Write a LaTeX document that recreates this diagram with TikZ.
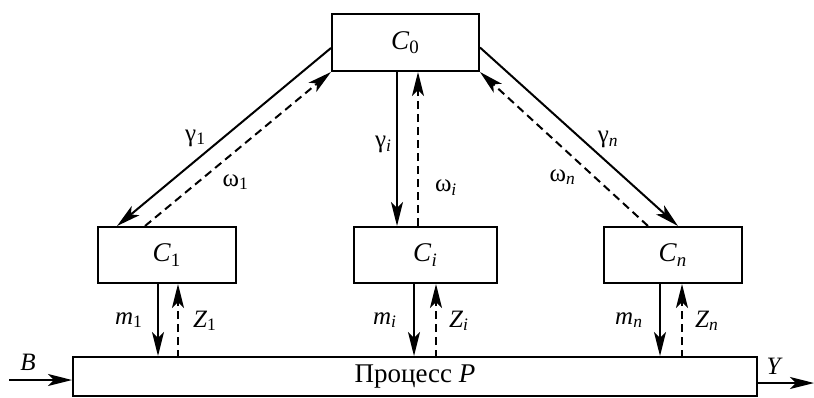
\documentclass[tikz,border=0pt]{standalone}
\usepackage{fontspec}
\setmainfont{Liberation Serif}
\usetikzlibrary{arrows.meta}

\newcommand{\sbx}[2]{\textit{#1}\textsubscript{#2}}

\begin{document}
\begin{tikzpicture}[
  x=0.5pt, y=-0.5pt,
  box/.style={rectangle, draw, line width=1pt, inner sep=0pt,
              minimum height=28pt, font=\fontsize{13.5}{15}\selectfont},
  sarr/.style={-{Stealth[length=12pt,width=6pt,inset=3pt]}, line width=1pt},
  darr/.style={sarr, dash pattern=on 4pt off 2.5pt},
  lbl/.style={font=\fontsize{12.5}{14}\selectfont, inner sep=0pt}
]
\useasboundingbox (0,0) rectangle (814,397);

% control units and process
\node[box, minimum width=73.5pt, minimum height=28.5pt] (C0) at (405.5,42.5) {\sbx{C}{0}};
\node[box, minimum width=69pt]   (C1) at (167,255)   {\sbx{C}{1}};
\node[box, minimum width=71.5pt] (Ci) at (425.5,255) {\sbx{C}{\textit{i}}};
\node[box, minimum width=69pt]   (Cn) at (673,255)   {\sbx{C}{\textit{n}}};
\node[box, minimum width=342pt, minimum height=19.5pt] (proc) at (415,376.5)
      {Процесс \textit{P}};

\coordinate (bin)  at (9,380);
\coordinate (yout) at (814,383);

% upper level: coordination
\draw[sarr] ([yshift=-2.75pt]C0.west) -- ([xshift=-25pt]C1.north)
      node[lbl, pos=0.57, above left=1pt] {γ\textsubscript{1}};
\draw[darr] ([xshift=-11pt]C1.north) -- (C0.south west)
      node[lbl, pos=0.38, below right=3pt] {ω\textsubscript{1}};

\draw[sarr] ([xshift=-4.25pt]C0.south) coordinate (gi) -- (gi |- Ci.north)
      node[lbl, pos=0.47, left=2pt] {γ\textsubscript{\textit{i}}};
\draw[darr] ([xshift=-3.75pt]Ci.north) coordinate (wi) -- (wi |- C0.south)
      node[lbl, pos=0.25, right=8pt] {ω\textsubscript{\textit{i}}};

\draw[sarr] ([yshift=-2.5pt]C0.east) -- ([xshift=2.5pt]Cn.north)
      node[lbl, pos=0.58, above right=1pt] {γ\textsubscript{\textit{n}}};
\draw[darr] ([xshift=-12.5pt]Cn.north) -- (C0.south east)
      node[lbl, pos=0.4, below left=2pt] {ω\textsubscript{\textit{n}}};

% lower level: controls and measurements
\draw[sarr] ([xshift=-4.5pt]C1.south) coordinate (m1) -- (m1 |- proc.north)
      node[lbl, pos=0.5, left=7pt] {\sbx{m}{1}};
\draw[darr] ([xshift=5.5pt]C1.south) coordinate (z1) ++(0,74) -- (z1)
      node[lbl, pos=0.5, right=7pt] {\sbx{Z}{1}};

\draw[sarr] ([xshift=-5.75pt]Ci.south) coordinate (mi) -- (mi |- proc.north)
      node[lbl, pos=0.5, left=8pt] {\sbx{m}{\textit{i}}};
\draw[darr] ([xshift=5.25pt]Ci.south) coordinate (zi) ++(0,74) -- (zi)
      node[lbl, pos=0.5, right=6pt] {\sbx{Z}{\textit{i}}};

\draw[sarr] ([xshift=-6.5pt]Cn.south) coordinate (mn) -- (mn |- proc.north)
      node[lbl, pos=0.5, left=8pt] {\sbx{m}{\textit{n}}};
\draw[darr] ([xshift=4.5pt]Cn.south) coordinate (zn) ++(0,74) -- (zn)
      node[lbl, pos=0.5, right=6pt] {\sbx{Z}{\textit{n}}};

% input and output
\draw[sarr] (bin) -- (bin -| proc.west)
      node[lbl, pos=0.3, above=4pt] {\textit{B}};
\draw[sarr] (yout -| proc.east) -- (yout)
      node[lbl, pos=0.3, above=4pt] {\textit{Y}};
\end{tikzpicture}
\end{document}
